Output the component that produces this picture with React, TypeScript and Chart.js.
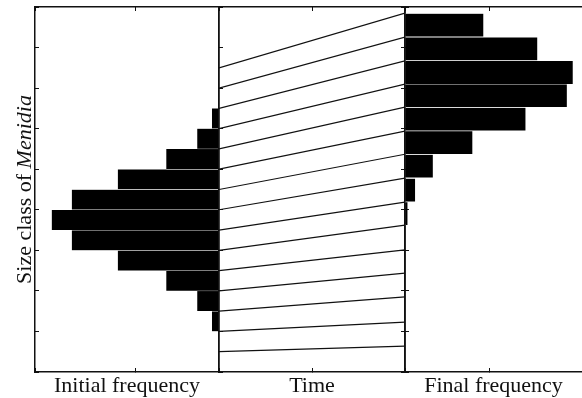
import React, { useEffect, useRef } from "react";
import { Chart, registerables } from "chart.js";

Chart.register(...registerables);

// Size-class edges of each cohort at the start and at the end of the period
const sizeAtStart = [0.5, 1.0, 1.5, 2.0, 2.5, 3.0, 3.5, 4.0, 4.5, 5.0, 5.5, 6.0, 6.5, 7.0, 7.5];
const sizeAtEnd = [0.64, 1.23, 1.85, 2.44, 3.01, 3.62, 4.19, 4.78, 5.37, 5.94, 6.53, 7.1, 7.67, 8.26, 8.85];
// Frequency in each bin (between consecutive edges), bottom to top
const initialFrequency = [0.001, 0.0084, 0.026, 0.063, 0.121, 0.176, 0.2, 0.176, 0.121, 0.063, 0.026, 0.0084, 0.001, 0];
const finalFrequency = [0, 0, 0, 0, 0, 0.003, 0.012, 0.033, 0.08, 0.143, 0.192, 0.199, 0.157, 0.093];

// Axis ranges
const sizeRange = { min: 0, max: 9, step: 1 };
const initialFreqRange = { min: 0, max: 0.22, step: 0.1 };
const timeRange = { min: 0, max: 1, step: 0.5 };
const finalFreqRange = { min: 0, max: 0.21, step: 0.1 };

// Text
const titleInitial = "Initial frequency";
const titleTime = "Time";
const titleFinal = "Final frequency";
const yTitlePlain = "Size class of ";
const yTitleItalic = "Menidia";

const W = 582;
const H = 398;
const INK = "#111";
const FONT_FAMILY = '"Liberation Serif", "Times New Roman", serif';

const midpoints = (edges: number[]) => edges.slice(0, -1).map((e, i) => (e + edges[i + 1]) / 2);

function edgeAxis(position: string, range: any, extra: any = {}) {
  const horizontal = position === "top" || position === "bottom";
  const size = extra.size ?? 0;
  return {
    type: "linear",
    position,
    display: true,
    min: range.min,
    max: range.max,
    reverse: !!extra.reverse,
    offset: false,
    border: { display: true, color: INK, width: extra.borderWidth ?? 1.5 },
    grid: { drawOnChartArea: false, drawTicks: true, tickLength: -4, color: INK, lineWidth: 1, offset: false },
    ticks: { display: false, stepSize: range.step },
    title: extra.title
      ? {
          display: true,
          text: extra.title,
          color: INK,
          font: { family: FONT_FAMILY, size: 22, lineHeight: 1.1 },
          padding: { top: 0, bottom: 0 },
        }
      : { display: false },
    afterFit: (s: any) => {
      if (horizontal) s.height = size;
      else s.width = size;
    },
  };
}

const yTitlePlugin = {
  id: "sizeTitle",
  afterDraw(chart: any) {
    const { ctx, chartArea } = chart;
    const cy = (chartArea.top + chartArea.bottom) / 2;
    ctx.save();
    ctx.translate(chartArea.left - 4, cy);
    ctx.rotate(-Math.PI / 2);
    ctx.fillStyle = INK;
    ctx.textBaseline = "alphabetic";
    ctx.textAlign = "left";
    const f1 = `22px ${FONT_FAMILY}`;
    const f2 = `italic 22px ${FONT_FAMILY}`;
    ctx.font = f1;
    const w1 = ctx.measureText(yTitlePlain).width;
    ctx.font = f2;
    const w2 = ctx.measureText(yTitleItalic).width;
    const x0 = -(w1 + w2) / 2;
    ctx.font = f1;
    ctx.fillText(yTitlePlain, x0, 0);
    ctx.font = f2;
    ctx.fillText(yTitleItalic, x0 + w1, 0);
    ctx.restore();
  },
};

const barStyle = {
  backgroundColor: "#000",
  borderColor: "#ffffff",
  borderWidth: { top: 0.5, bottom: 0.5, left: 0, right: 0 },
  borderSkipped: false,
  barPercentage: 1,
  categoryPercentage: 1,
};

export default function App() {
  const leftRef = useRef<HTMLCanvasElement>(null);
  const midRef = useRef<HTMLCanvasElement>(null);
  const rightRef = useRef<HTMLCanvasElement>(null);

  useEffect(() => {
    const startCenters = midpoints(sizeAtStart);
    const endCenters = midpoints(sizeAtEnd);

    const common = {
      responsive: false,
      animation: false as const,
      devicePixelRatio: 1,
      plugins: { legend: { display: false }, tooltip: { enabled: false } },
      events: [] as any[],
    };

    const left = new Chart(leftRef.current as HTMLCanvasElement, {
      type: "bar",
      data: {
        datasets: [
          {
            ...barStyle,
            data: initialFrequency.map((v, i) => ({ x: v, y: startCenters[i] })),
            xAxisID: "x",
            yAxisID: "y",
          } as any,
        ],
      },
      options: {
        ...common,
        indexAxis: "y",
        layout: { padding: { left: 35, right: W - 219, top: 7, bottom: 0 } },
        scales: {
          x: edgeAxis("bottom", initialFreqRange, { reverse: true, size: 26, title: titleInitial }),
          xTop: edgeAxis("top", initialFreqRange, { reverse: true }),
          y: edgeAxis("left", sizeRange),
        } as any,
      } as any,
      plugins: [yTitlePlugin],
    });

    const mid = new Chart(midRef.current as HTMLCanvasElement, {
      type: "scatter",
      data: {
        datasets: sizeAtStart.map((s, i) => ({
          data: [
            { x: timeRange.min, y: s },
            { x: timeRange.max, y: sizeAtEnd[i] },
          ],
          showLine: true,
          borderColor: INK,
          borderWidth: 1.2,
          pointRadius: 0,
          fill: false,
          xAxisID: "x",
          yAxisID: "y",
        })),
      },
      options: {
        ...common,
        layout: { padding: { left: 219, right: W - 405, top: 7, bottom: 0 } },
        scales: {
          x: edgeAxis("bottom", timeRange, { size: 26, title: titleTime }),
          xTop: edgeAxis("top", timeRange),
          y: edgeAxis("left", sizeRange, { borderWidth: 1.8 }),
          yRight: edgeAxis("right", sizeRange, { borderWidth: 1.8 }),
        } as any,
      } as any,
    });

    const right = new Chart(rightRef.current as HTMLCanvasElement, {
      type: "bar",
      data: {
        datasets: [
          {
            ...barStyle,
            data: finalFrequency.map((v, i) => ({ x: v, y: endCenters[i] })),
            xAxisID: "x",
            yAxisID: "y",
          } as any,
        ],
      },
      options: {
        ...common,
        indexAxis: "y",
        layout: { padding: { left: 405, right: 0, top: 7, bottom: 0 } },
        scales: {
          x: edgeAxis("bottom", finalFreqRange, { size: 26, title: titleFinal }),
          xTop: edgeAxis("top", finalFreqRange),
          y: edgeAxis("left", sizeRange),
        } as any,
      } as any,
    });

    return () => {
      left.destroy();
      mid.destroy();
      right.destroy();
    };
  }, []);

  const canvasStyle: React.CSSProperties = { position: "absolute", left: 0, top: 0, width: W, height: H };
  return (
    <div style={{ position: "fixed", left: 0, top: 0, width: W, height: H, background: "#fff" }}>
      <canvas ref={leftRef} width={W} height={H} style={canvasStyle} />
      <canvas ref={midRef} width={W} height={H} style={canvasStyle} />
      <canvas ref={rightRef} width={W} height={H} style={canvasStyle} />
    </div>
  );
}
